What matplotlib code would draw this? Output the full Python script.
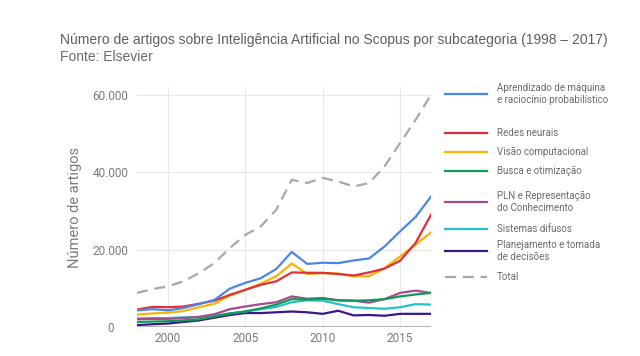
import matplotlib
matplotlib.use('Agg')
import matplotlib.pyplot as plt
from matplotlib.lines import Line2D
from matplotlib.ticker import FuncFormatter

# data (thousands of articles)
years = list(range(1998, 2018))
aprendizado = [4.3, 4.6, 4.3, 4.9, 5.9, 7.0, 9.9, 11.4, 12.6, 15.0, 19.4, 16.3, 16.6, 16.5, 17.2, 17.7, 20.8, 24.7, 28.4, 33.7]
redes = [4.5, 5.2, 5.1, 5.3, 6.0, 6.8, 8.3, 9.6, 10.9, 11.8, 14.1, 14.0, 14.0, 13.7, 13.3, 14.1, 15.1, 17.1, 21.7, 29.0]
visao = [3.2, 3.5, 3.7, 4.1, 5.1, 6.0, 8.1, 9.6, 11.2, 13.1, 16.4, 13.7, 13.9, 13.8, 13.1, 13.1, 15.2, 18.2, 21.3, 24.4]
busca = [1.3, 1.4, 1.5, 1.7, 2.0, 2.7, 3.5, 4.0, 4.8, 5.8, 7.2, 7.1, 7.3, 6.9, 6.8, 6.9, 7.2, 7.9, 8.4, 8.8]
pln = [2.0, 2.1, 2.1, 2.3, 2.6, 3.3, 4.6, 5.3, 5.9, 6.4, 7.9, 7.3, 7.5, 6.9, 6.8, 6.3, 7.2, 8.8, 9.4, 8.8]
difusos = [2.2, 2.3, 2.3, 2.5, 2.6, 2.9, 3.5, 4.0, 4.6, 5.2, 6.4, 6.9, 6.8, 5.9, 5.1, 4.9, 4.7, 5.1, 5.9, 5.8]
planejamento = [0.5, 0.7, 0.9, 1.3, 1.7, 2.4, 3.1, 3.6, 3.6, 3.8, 4.0, 3.8, 3.4, 4.2, 3.0, 3.1, 2.9, 3.4, 3.4, 3.4]
total = [8.8, 9.8, 10.5, 11.8, 13.9, 16.5, 20.4, 23.8, 26.0, 30.3, 38.0, 37.2, 38.5, 37.6, 36.3, 37.2, 41.5, 47.5, 53.5, 60.0]

labels = ['Aprendizado de máquina\ne raciocínio probabilístico', 'Redes neurais',
          'Visão computacional', 'Busca e otimização',
          'PLN e Representação\ndo Conhecimento', 'Sistemas difusos',
          'Planejamento e tomada\nde decisões', 'Total']
colors = ['#4a86e8', '#e02f3a', '#f6b500', '#119a58', '#a84a8b', '#26c2c8', '#3a1888', '#a8a8a8']

plt.rcParams['font.family'] = ['Roboto', 'DejaVu Sans']

fig = plt.figure(figsize=(6.4, 3.56), dpi=100)
ax = fig.add_axes([137 / 640, 29 / 356, 294 / 640, 240 / 356])

series = [aprendizado, redes, visao, busca, pln, difusos, planejamento]
# draw lower series first so blue/red stay on top like the original
order = [6, 5, 3, 4, 2, 1, 0]
for i in order:
    ax.plot(years, [v * 1000 for v in series[i]], color=colors[i], lw=1.6, zorder=3 + (6 - i) * 0.1)
ax.plot(years, [v * 1000 for v in total], color=colors[7], lw=1.6, dashes=(5, 3), zorder=3)

ax.set_xlim(1998, 2017)
ax.set_ylim(0, 62000)
ax.set_xticks([2000, 2005, 2010, 2015])
ax.set_yticks([0, 20000, 40000, 60000])
ax.yaxis.set_major_formatter(FuncFormatter(lambda v, p: '0' if v == 0 else f'{int(v):,}'.replace(',', '.')))
ax.grid(True, color='#e8e8e8', lw=0.8, zorder=0)
ax.axhline(0, color='#b5b5b5', lw=1.5, zorder=2)
for s in ax.spines.values():
    s.set_visible(False)
ax.tick_params(length=0, labelsize=8.5, labelcolor='#7a7a7a')
for t in ax.get_yticklabels():
    t.set_horizontalalignment('center')
ax.tick_params(axis='y', pad=19)
ax.set_ylabel('Número de artigos', fontsize=10.5, color='#7a7a7a', labelpad=8)

fig.text(60 / 640, 1 - 40 / 356, 'Número de artigos sobre Inteligência Artificial no Scopus por subcategoria (1998 – 2017)',
         fontsize=10, color='#5e5e5e', va='center', family=['Liberation Sans', 'DejaVu Sans'])
fig.text(60 / 640, 1 - 57 / 356, 'Fonte: Elsevier', fontsize=10, color='#6a6a6a', va='center',
         family=['Liberation Sans', 'DejaVu Sans'])

# legend drawn by hand to follow the uneven spacing of the original
legend_y = [94, 133, 152, 171, 202, 229, 251, 277]
for lab, col, y in zip(labels, colors, legend_y):
    yf = 1 - y / 356
    ln = Line2D([445 / 640, 487 / 640], [yf, yf], transform=fig.transFigure, color=col, lw=1.6)
    if lab == 'Total':
        ln.set_dashes((5, 3))
    fig.add_artist(ln)
    fig.text(497 / 640, yf, lab, fontsize=7, color='#6a6a6a', va='center', linespacing=1.25)

fig.savefig('out.png', dpi=100)
